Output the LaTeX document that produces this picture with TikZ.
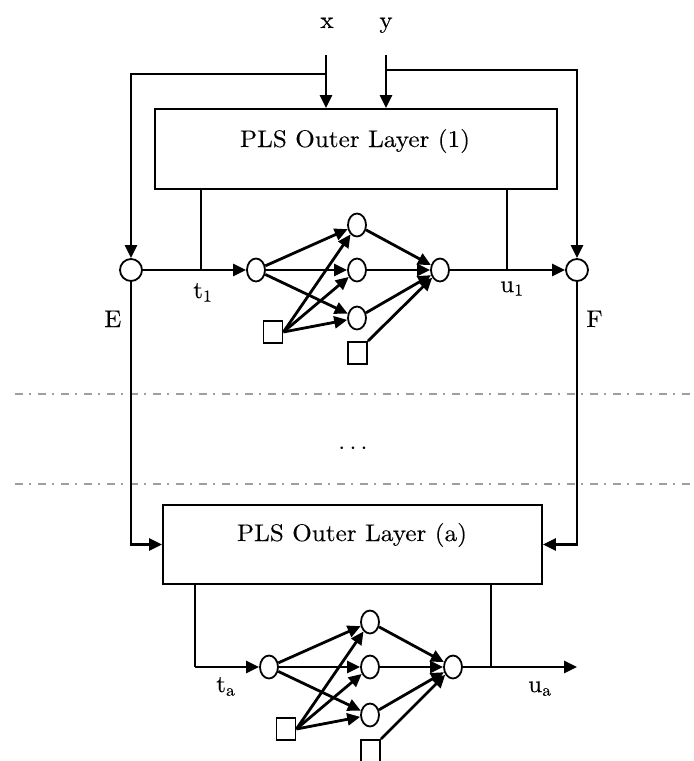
\documentclass[tikz,border=0pt]{standalone}
\usepackage{fontspec}
\setmainfont{lmroman10-regular}[Extension=.otf, FakeStretch=1.05, FakeBold=0.2]
\usetikzlibrary{arrows.meta,shapes.geometric}
\begin{document}
\begin{tikzpicture}[x=1pt,y=-1pt,
  lbl/.style={font=\fontsize{24}{28}\selectfont, inner sep=0},
  neuron/.style={draw, ellipse, minimum width=18pt, minimum height=23pt, inner sep=0, line width=1.8pt},
  ring/.style={draw, circle, minimum size=22pt, inner sep=0, line width=1.8pt},
  bias/.style={draw, rectangle, minimum width=19pt, minimum height=22pt, inner sep=0, line width=1.8pt},
  layerbox/.style={draw, rectangle, line width=1.9pt, inner sep=0},
  wire/.style={line width=2.8pt},
  thinwire/.style={line width=1.7pt},
  arr/.style={-{Triangle[length=13pt,width=12pt]}},
  sepline/.style={gray!75, line width=1.4pt, dash pattern=on 8pt off 6pt on 2pt off 7pt}
]
\useasboundingbox (0,0) rectangle (694,761);

% separators
\coordinate (s1a) at (15,394); \coordinate (s1b) at (694,394);
\coordinate (s2a) at (15,484); \coordinate (s2b) at (694,484);
\draw[sepline] (s1a) -- (s1b);
\draw[sepline] (s2a) -- (s2b);

% boxes
\node[layerbox, minimum width=402pt, minimum height=80pt] (box1) at (356,149) {};
\node[lbl, anchor=base] (box1t) at (355,147) {PLS Outer Layer (1)};
\node[layerbox, minimum width=379pt, minimum height=79pt] (boxa) at (352.5,544.5) {};
\node[lbl, anchor=base] (boxat) at (352,541) {PLS Outer Layer (a)};

% labels
\node[lbl, anchor=base] (xl) at (327,28) {x};
\node[lbl, anchor=base] (yl) at (386,28) {y};
\node[lbl, anchor=base west] (t1l) at (193,298) {t\textsubscript{1}};
\node[lbl, anchor=base west] (u1l) at (500,292) {u\textsubscript{1}};
\node[lbl, anchor=base west] (El) at (104,327) {E};
\node[lbl, anchor=base west] (Fl) at (586,327) {F};
\node[lbl, anchor=base west] (tal) at (216,692) {t\textsubscript{a}};
\node[lbl, anchor=base west] (ual) at (528,692) {u\textsubscript{a}};
\node[lbl, font=\fontsize{30}{30}\selectfont] (dots) at (353,449) {$\cdots$};

% summing circles
\node[ring] (E) at (131,270) {};
\node[ring] (F) at (577,270) {};

% top network
\node[neuron] (i1) at (256,270) {};
\node[neuron] (h1a) at (357,225) {};
\node[neuron] (h1b) at (357,270) {};
\node[neuron] (h1c) at (357,318) {};
\node[neuron] (o1) at (440,270) {};
\node[bias] (b1a) at (273,332) {};
\node[bias] (b1b) at (357.5,353) {};

% bottom network
\node[neuron] (ia) at (269,667) {};
\node[neuron] (haa) at (370,622) {};
\node[neuron] (hab) at (370,667) {};
\node[neuron] (hac) at (370,715) {};
\node[neuron] (oa) at (453,667) {};
\node[bias] (baa) at (286,729) {};
\node[bias] (bab) at (370.5,751) {};

% inputs x, y and feedback
\coordinate (xin) at (326,55);
\coordinate (yin) at (386,55);
\coordinate (xj) at (326,74);
\coordinate (yj) at (386,70);
\draw[wire,arr] (xin) -- (xin |- box1.north);
\draw[wire,arr] (yin) -- (yin |- box1.north);
\draw[wire,arr] (xj) -| (E.north);
\draw[wire,arr] (yj) -| (F.north);

% main line layer 1
\coordinate (c1) at (201,270);
\coordinate (c2) at (507,270);
\draw[wire,arr] (E) -- (i1);
\draw[wire,arr] (o1) -- (F);
\draw[thinwire] (box1.south -| c1) -- (c1);
\draw[thinwire] (box1.south -| c2) -- (c2);

% E and F down to layer a
\draw[wire,arr] (E.south) |- (boxa.west);
\draw[wire,arr] (F.south) |- (boxa.east);

% layer a lines
\coordinate (ca) at (195,667);
\coordinate (cb) at (491,667);
\coordinate (uaend) at (577,667);
\draw[thinwire] (boxa.south -| ca) -- (ca);
\draw[wire,arr] (ca) -- (ia);
\draw[thinwire] (boxa.south -| cb) -- (cb);
\draw[wire,arr] (oa) -- (uaend);

% network connections top
\foreach \h in {h1a,h1b,h1c}{
  \draw[wire,arr] (i1) -- (\h);
  \draw[wire,arr] (b1a.east) -- (\h);
  \draw[wire,arr] (\h) -- (o1);
}
\draw[wire,arr] (b1b.north east) -- (o1);

% network connections bottom
\foreach \h in {haa,hab,hac}{
  \draw[wire,arr] (ia) -- (\h);
  \draw[wire,arr] (baa.east) -- (\h);
  \draw[wire,arr] (\h) -- (oa);
}
\draw[wire,arr] (bab.north east) -- (oa);
\end{tikzpicture}
\end{document}
